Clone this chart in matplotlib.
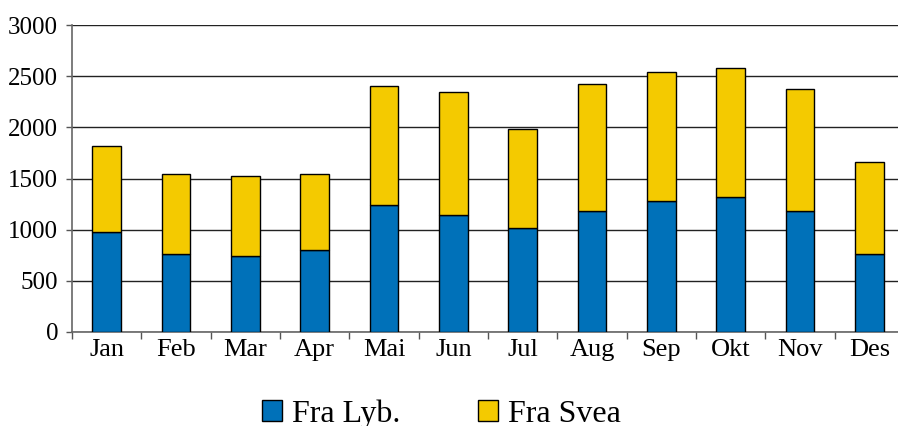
import matplotlib.pyplot as plt
import numpy as np

# data
months = ['Jan', 'Feb', 'Mar', 'Apr', 'Mai', 'Jun', 'Jul', 'Aug', 'Sep', 'Okt', 'Nov', 'Des']
fra_lyb = [980, 760, 745, 800, 1240, 1145, 1020, 1178, 1280, 1320, 1180, 760]
totals = [1820, 1542, 1522, 1543, 2405, 2345, 1982, 2420, 2540, 2582, 2378, 1658]
fra_svea = [t - b for t, b in zip(totals, fra_lyb)]

blue = '#0071B9'
yellow = '#F4CA00'

plt.rcParams['font.family'] = ['Liberation Serif', 'DejaVu Serif']

fig = plt.figure(figsize=(8.98, 4.26), dpi=100)
ax = fig.add_axes([72 / 898, 94 / 426, 832 / 898, 307 / 426])

x = np.arange(len(months))
ax.bar(x, fra_lyb, width=0.41, color=blue, edgecolor='black', linewidth=1,
       label='Fra Lyb.', zorder=3)
ax.bar(x, fra_svea, width=0.41, bottom=fra_lyb, color=yellow, edgecolor='black',
       linewidth=1, label='Fra Svea', zorder=3)

ax.set_xlim(-0.5, len(months) - 0.5)
ax.set_ylim(0, 3000)
ax.set_yticks(range(0, 3001, 500))
ax.yaxis.grid(True, color='#222222', linewidth=1)
ax.set_axisbelow(True)

# x-akse: etiketter i midten, streker mellom kategoriene
ax.set_xticks(x)
ax.set_xticklabels(months, fontsize=19)
ax.set_xticks(np.arange(-0.5, len(months), 1), minor=True)
ax.tick_params(axis='x', which='major', length=0, pad=5)
ax.tick_params(axis='x', which='minor', length=5, color='#555555', width=1)
ax.tick_params(axis='y', length=4, color='#555555', width=1, labelsize=18, pad=6)

for side in ['top', 'right']:
    ax.spines[side].set_visible(False)
for side in ['left', 'bottom']:
    ax.spines[side].set_color('#666666')
    ax.spines[side].set_linewidth(1.2)

fig.legend(loc='lower center', bbox_to_anchor=(0.4917, -0.074), ncol=2, frameon=False,
           fontsize=23, handlelength=0.62, handleheight=0.62, handletextpad=0.3,
           columnspacing=2.45)

plt.savefig('out.png', dpi=100)
